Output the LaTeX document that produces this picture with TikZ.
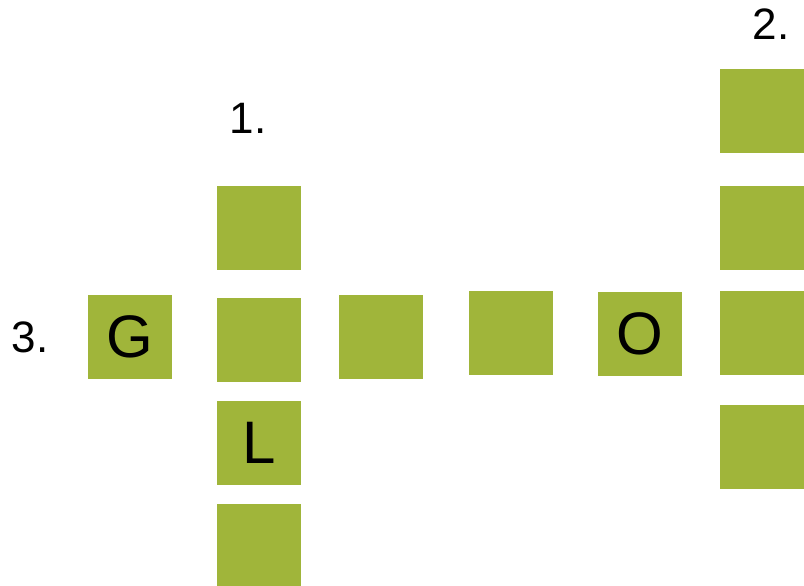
\documentclass[tikz,border=0pt]{standalone}
\usepackage{fontspec}
\setmainfont{Liberation Sans}
\usepackage{tikz}
\definecolor{cTile}{RGB}{160,181,58}

\begin{document}
\begin{tikzpicture}[
    x=1pt, y=-1pt,
    tile/.style={rectangle,fill=cTile,minimum width=84pt,minimum height=84pt,inner sep=0pt,
      font=\fontsize{60}{60}\selectfont},
    numlabel/.style={inner sep=0pt,font=\fontsize{44}{44}\selectfont}
  ]
  \useasboundingbox (0,0) rectangle (804,586);
  % word 1 (down)
  \node[numlabel] (n1) at (248,118) {1.};
  \node[tile] (a1) at (259,228) {};
  \node[tile] (a2) at (259,340) {};
  \node[tile] (a3) at (259,442.5) {L};
  \node[tile] (a4) at (259,546) {};
  % word 2 (down)
  \node[numlabel] (n2) at (771,24) {2.};
  \node[tile] (b1) at (761.5,111) {};
  \node[tile] (b2) at (761.5,228) {};
  \node[tile] (b3) at (761.5,333) {};
  \node[tile] (b4) at (761.5,447) {};
  % word 3 (across)
  \node[numlabel] (n3) at (30,337) {3.};
  \node[tile] (c1) at (129.5,337) {G};
  \node[tile] (c2) at (381,337) {};
  \node[tile] (c3) at (510.5,333) {};
  \node[tile] (c4) at (639.5,333.5) {O};
\end{tikzpicture}
\end{document}
